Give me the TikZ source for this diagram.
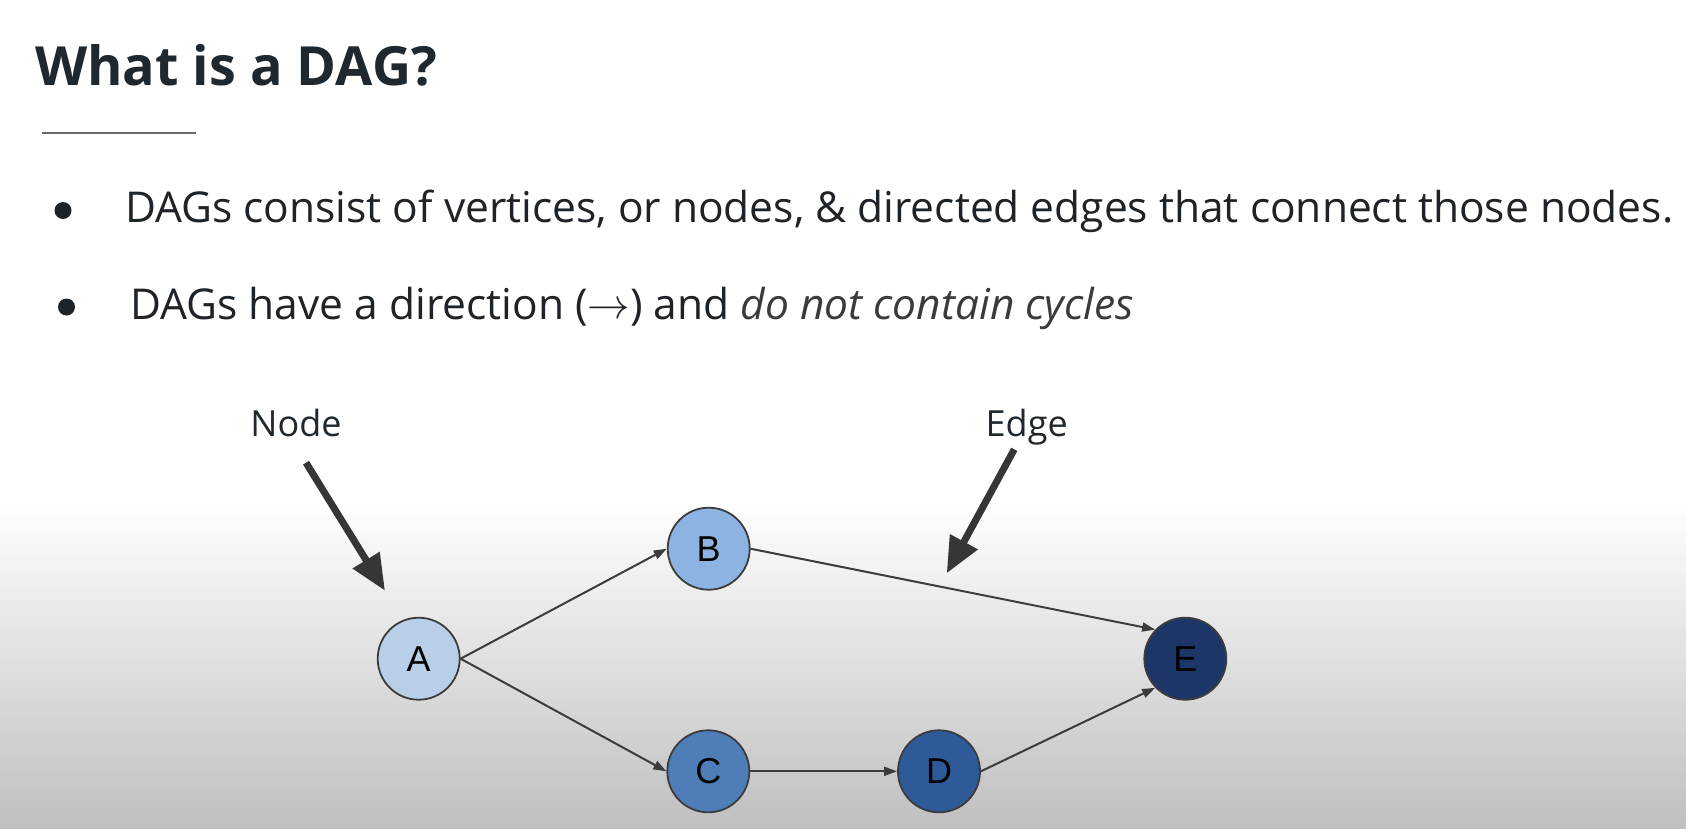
\RequirePackage{fix-cm}
\documentclass[tikz,border=0pt]{standalone}
\usepackage{fontspec}
\setmainfont{Open Sans}
\newfontfamily\arialf{Liberation Sans}
\usetikzlibrary{arrows.meta}
\definecolor{titlecol}{HTML}{1F282E}
\definecolor{textcol}{HTML}{1E2328}
\definecolor{italcol}{HTML}{3A3A3A}
\definecolor{rulegray}{HTML}{6A6A6A}
\definecolor{edgegray}{HTML}{3C3C3C}
\definecolor{ptrgray}{HTML}{363636}
\definecolor{bggray}{HTML}{BFBFBF}
\definecolor{colA}{HTML}{B9CFE7}
\definecolor{colB}{HTML}{8CB3E2}
\definecolor{colC}{HTML}{4E7DB8}
\definecolor{colD}{HTML}{2E5A99}
\definecolor{colE}{HTML}{1D3668}
\begin{document}
\begin{tikzpicture}[x=1pt,y=-1pt,
  dagnode/.style={circle, draw=edgegray, line width=1.8pt, minimum size=82pt, inner sep=0pt,
    font=\arialf\fontsize{36}{36}\selectfont, text=black},
  edgearrow/.style={draw=edgegray, line width=2pt, -{Triangle[length=13pt,width=9pt]}},
  pointer/.style={draw=ptrgray, line width=7pt, -{Triangle[length=36pt,width=30pt]}},
  bodytext/.style={anchor=base west, inner sep=0pt, font=\fontsize{42.5}{42.5}\selectfont, text=textcol},
  labeltext/.style={anchor=base, inner sep=0pt, font=\fontsize{36}{36}\selectfont, text=titlecol},
  bulletdot/.style={circle, fill=textcol, minimum size=17pt, inner sep=0pt},
]
\useasboundingbox (0,0) rectangle (1686,828);
\fill[white] (0,0) rectangle (1686,828);
\shade[top color=white, bottom color=bggray] (0,500) rectangle (1686,828);

% title and rule
\node[anchor=base west, inner sep=0pt, font=\bfseries\fontsize{54}{54}\selectfont, text=titlecol] (title) at (35,85) {What is a DAG?};
\draw[rulegray, line width=2pt] (41.7,133.3) -- (195.7,133.3);

% bullets
\node[bulletdot] (b1) at (63,210.5) {};
\node[bulletdot] (b2) at (66.5,307) {};
\node[bodytext] (t1) at (125,222) {DAGs consist of vertices, or nodes, \& directed edges that connect those nodes.};
\node[bodytext] (t2) at (130,319) {DAGs have a direction (\raisebox{1pt}{$\rightarrow$}) and \textcolor{italcol}{\itshape do not contain cycles}};

% graph nodes
\node[dagnode, fill=colA] (A) at (418.7,658.7) {A};
\node[dagnode, fill=colB] (B) at (708.7,548.7) {B};
\node[dagnode, fill=colC] (C) at (708.3,771.3) {C};
\node[dagnode, fill=colD] (D) at (939,771.3) {D};
\node[dagnode, fill=colE] (E) at (1185.3,658.7) {E};

\draw[edgearrow] (A.east) -- (B.west);
\draw[edgearrow] (A.east) -- (C.west);
\draw[edgearrow] (C.east) -- (D.west);
\draw[edgearrow] (B.east) -- (E.136);
\draw[edgearrow] (D.east) -- (E.224);

% labels and pointers
\node[labeltext] (nodelbl) at (296,436.7) {Node};
\node[labeltext] (edgelbl) at (1026.7,436.7) {Edge};
\coordinate (nodetail) at (306,462.7);
\coordinate (nodetip) at (385,590.7);
\coordinate (edgetail) at (1014.3,449.3);
\coordinate (edgetip) at (946.7,573.3);
\draw[pointer] (nodetail) -- (nodetip);
\draw[pointer] (edgetail) -- (edgetip);
\end{tikzpicture}
\end{document}
